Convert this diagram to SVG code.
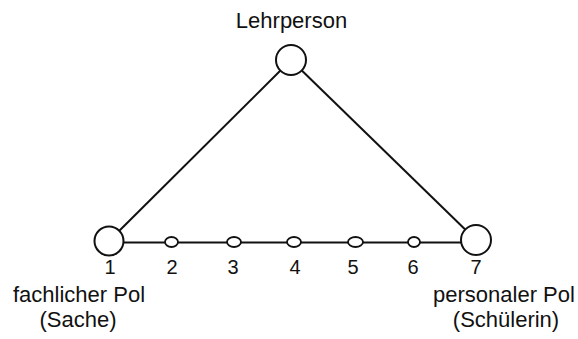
<svg xmlns="http://www.w3.org/2000/svg" width="578" height="339" viewBox="0 0 578 339">
<style>
text{font-family:"Liberation Sans",Arial,Helvetica,sans-serif;fill:#111}
.lbl{font-size:22px}
.num{font-size:20px;text-anchor:middle}
.big{fill:#fff;stroke:#111;stroke-width:2}
.small{fill:#fff;stroke:#111;stroke-width:1.8}
.con{stroke:#111;stroke-width:2;fill:none}
</style>
<rect width="578" height="339" fill="#fff"/>
<g id="connectors">
<line class="con" x1="109" y1="241" x2="291" y2="60"/>
<line class="con" x1="291" y1="60" x2="476" y2="240"/>
<line class="con" x1="109" y1="242.5" x2="476" y2="242.5" stroke-width="1.7"/>
</g>
<g id="lehrperson">
<circle class="big" cx="291" cy="60" r="15"/>
<text class="lbl" x="291.5" y="28" text-anchor="middle">Lehrperson</text>
</g>
<g id="node1">
<circle class="big" cx="109" cy="241" r="14.5"/>
<text class="num" x="110" y="274">1</text>
<text class="lbl" x="13" y="302">fachlicher Pol</text>
<text class="lbl" x="78" y="327" text-anchor="middle">(Sache)</text>
</g>
<g id="node2">
<ellipse class="small" cx="171.5" cy="242" rx="6.5" ry="5"/>
<text class="num" x="172" y="274">2</text>
</g>
<g id="node3">
<ellipse class="small" cx="234" cy="242" rx="7" ry="5"/>
<text class="num" x="233" y="274">3</text>
</g>
<g id="node4">
<ellipse class="small" cx="294" cy="242" rx="7" ry="5"/>
<text class="num" x="295" y="274">4</text>
</g>
<g id="node5">
<ellipse class="small" cx="355.5" cy="242" rx="7.5" ry="5"/>
<text class="num" x="353" y="274">5</text>
</g>
<g id="node6">
<ellipse class="small" cx="414" cy="242" rx="6" ry="5"/>
<text class="num" x="413" y="274">6</text>
</g>
<g id="node7">
<circle class="big" cx="476" cy="240" r="15"/>
<text class="num" x="476" y="274">7</text>
<text class="lbl" x="433" y="302">personaler Pol</text>
<text class="lbl" x="506" y="327" text-anchor="middle">(Schülerin)</text>
</g>
</svg>
